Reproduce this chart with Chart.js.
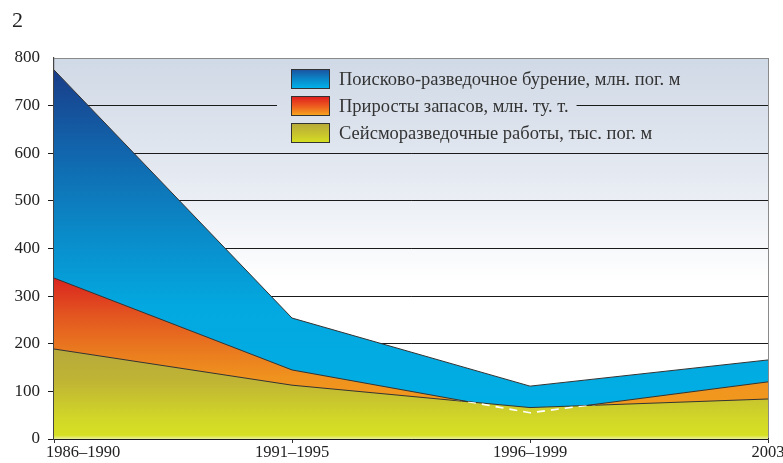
<!DOCTYPE html>
<html>
<head>
<meta charset="utf-8">
<script src="https://cdn.jsdelivr.net/npm/chart.js@4/dist/chart.umd.min.js"></script>
<style>
  html, body { margin: 0; padding: 0; background: #fff; }
  #wrap { width: 783px; height: 463px; }
</style>
</head>
<body>
<div id="wrap"><canvas id="chart" width="783" height="463"></canvas></div>
<script>
// data
const periods = ['1986–1990', '1991–1995', '1996–1999', '2003'];
const drilling = [775, 254, 111, 166];   // Поисково-разведочное бурение, млн. пог. м
const reserves = [338, 145, 55, 120];    // Приросты запасов, млн. ту. т.
const seismic = [189, 113, 66, 84];      // Сейсморазведочные работы, тыс. пог. м
const yTicks = [0, 100, 200, 300, 400, 500, 600, 700, 800];
const legendLabels = [
    'Поисково-разведочное бурение, млн. пог. м',
    'Приросты запасов, млн. ту. т.',
    'Сейсморазведочные работы, тыс. пог. м'
];
const figureNumber = '2';

const serif = '"Liberation Serif", "DejaVu Serif", serif';

function vGradient(chart, stops) {
    // stops: [value, color] pairs on the y scale
    const y = chart.scales.y;
    const area = chart.chartArea;
    if (!y || !area) return null;
    const g = chart.ctx.createLinearGradient(0, area.top, 0, area.bottom);
    stops.forEach(function(s) {
        let p = (y.getPixelForValue(s[0]) - area.top) / (area.bottom - area.top);
        p = Math.max(0, Math.min(1, p));
        g.addColorStop(p, s[1]);
    });
    return g;
}

function bgGradient(chart) {
    return vGradient(chart, [[800, '#d0d9e6'], [560, '#e4e9f1'], [330, '#ffffff'], [0, '#ffffff']]);
}

const blueFill = function(c) {
    return vGradient(c.chart, [[790, '#1a3985'], [620, '#1262aa'], [430, '#0a8bc9'], [280, '#03a8e0'], [0, '#00b0e6']]);
};
const orangeFill = function(c) {
    return vGradient(c.chart, [[340, '#d9231f'], [260, '#e35520'], [190, '#e9781f'], [130, '#f0921e'], [0, '#f4a11d']]);
};
const yellowFill = function(c) {
    return vGradient(c.chart, [[190, '#b6a83b'], [120, '#c0b534'], [40, '#d2d827'], [8, '#d6e022'], [0, '#eaf09e']]);
};

// background of the plot area
const backgroundPlugin = {
    id: 'plotBackground',
    beforeDraw(chart) {
        const ctx = chart.ctx;
        const a = chart.chartArea;
        ctx.save();
        ctx.fillStyle = '#ffffff';
        ctx.fillRect(0, 0, chart.width, chart.height);
        ctx.fillStyle = bgGradient(chart);
        ctx.fillRect(a.left, a.top, a.right - a.left, a.bottom - a.top);
        ctx.restore();
    }
};

// the hidden part of the reserves line, shown white dashed through the seismic area
const hiddenLinePlugin = {
    id: 'hiddenLine',
    afterDatasetsDraw(chart) {
        const ctx = chart.ctx;
        const front = chart.getDatasetMeta(0).data;
        const back = chart.getDatasetMeta(1).data;
        const bottom = chart.scales.y.getPixelForValue(0);
        ctx.save();
        ctx.beginPath();
        ctx.moveTo(front[0].x, front[0].y);
        for (let i = 1; i < front.length; i++) ctx.lineTo(front[i].x, front[i].y);
        ctx.lineTo(front[front.length - 1].x, bottom);
        ctx.lineTo(front[0].x, bottom);
        ctx.closePath();
        ctx.clip();
        ctx.beginPath();
        ctx.moveTo(back[0].x, back[0].y);
        for (let i = 1; i < back.length; i++) ctx.lineTo(back[i].x, back[i].y);
        ctx.strokeStyle = '#ffffff';
        ctx.lineWidth = 1.6;
        ctx.setLineDash([8, 6]);
        ctx.stroke();
        ctx.restore();
    }
};

// legend, x labels and the figure number
const decorPlugin = {
    id: 'decor',
    afterDraw(chart) {
        const ctx = chart.ctx;
        const x = chart.scales.x;
        const y = chart.scales.y;
        ctx.save();

        // figure number
        ctx.fillStyle = '#222';
        ctx.font = '22px ' + serif;
        ctx.textAlign = 'left';
        ctx.textBaseline = 'top';
        ctx.fillText(figureNumber, 12, 10);

        // x labels
        ctx.font = '16.5px ' + serif;
        ctx.textBaseline = 'top';
        ctx.fillStyle = '#222';
        periods.forEach(function(p, i) {
            const px = x.getPixelForValue(i);
            if (i === 0) {
                ctx.textAlign = 'left';
                ctx.fillText(p, px - 8, 444);
            } else {
                ctx.textAlign = 'center';
                ctx.fillText(p, px, 444);
            }
        });

        // legend
        const swatchX = 291, swatchW = 39, swatchH = 20;
        const textX = swatchX + swatchW + 9;
        const rowY = [69, 96, 123];
        const fills = [
            [['#1c4f9c', 0], ['#0a86c8', 0.5], ['#00b6ec', 1]],
            [['#e0191f', 0], ['#ec5a1f', 0.5], ['#f8ab1e', 1]],
            [['#b5a93b', 0], ['#c6c12f', 0.5], ['#d6e120', 1]]
        ];
        ctx.font = '18.5px ' + serif;
        ctx.textAlign = 'left';
        ctx.textBaseline = 'middle';
        legendLabels.forEach(function(label, i) {
            const top = rowY[i];
            const mid = top + swatchH / 2;
            if (i === 1) {
                // the 700 grid line stops around this row
                const gapStart = swatchX - 14;
                const gapEnd = textX + ctx.measureText(label).width + 8;
                ctx.fillStyle = bgGradient(chart);
                ctx.fillRect(gapStart, y.getPixelForValue(700) - 2, gapEnd - gapStart, 4);
            }
            const g = ctx.createLinearGradient(0, top, 0, top + swatchH);
            fills[i].forEach(function(s) { g.addColorStop(s[1], s[0]); });
            ctx.fillStyle = g;
            ctx.fillRect(swatchX, top, swatchW, swatchH);
            ctx.strokeStyle = '#333';
            ctx.lineWidth = 1;
            ctx.strokeRect(swatchX + 0.5, top + 0.5, swatchW - 1, swatchH - 1);
            ctx.fillStyle = '#333';
            ctx.fillText(label, textX, mid + 1);
        });
        ctx.restore();
    }
};

const ctx = document.getElementById('chart').getContext('2d');
new Chart(ctx, {
    type: 'line',
    data: {
        labels: periods,
        datasets: [
            {
                label: legendLabels[2],
                data: seismic,
                backgroundColor: yellowFill,
                borderColor: '#333',
                borderWidth: 1,
                fill: 'origin',
                pointRadius: 0,
                tension: 0
            },
            {
                label: legendLabels[1],
                data: reserves,
                backgroundColor: orangeFill,
                borderColor: '#333',
                borderWidth: 1,
                fill: 'origin',
                pointRadius: 0,
                tension: 0
            },
            {
                label: legendLabels[0],
                data: drilling,
                backgroundColor: blueFill,
                borderColor: '#333',
                borderWidth: 1,
                fill: 'origin',
                pointRadius: 0,
                tension: 0
            }
        ]
    },
    options: {
        responsive: false,
        animation: false,
        layout: {
            padding: { top: 58, right: 15, left: 0, bottom: 0 }
        },
        scales: {
            x: {
                z: 1,
                offset: false,
                grid: {
                    color: function(c) { return c.index === periods.length - 1 ? '#8a8a8a' : 'rgba(0,0,0,0)'; },
                    tickColor: '#333',
                    tickLength: 4,
                    lineWidth: 1
                },
                border: { display: true, color: '#222', width: 1.2 },
                ticks: { display: false },
                afterFit: function(scale) { scale.height = 24; }
            },
            y: {
                z: 1,
                min: 0,
                max: 800,
                afterBuildTicks: function(scale) {
                    scale.ticks = yTicks.map(function(v) { return { value: v }; });
                },
                grid: {
                    color: function(c) { return c.tick && c.tick.value === 800 ? '#8a8a8a' : '#1a1a1a'; },
                    tickColor: function(c) { return c.tick && c.tick.value === 800 ? 'rgba(0,0,0,0)' : '#1a1a1a'; },
                    tickLength: 6,
                    lineWidth: 1
                },
                border: { display: true, color: '#444', width: 1.2 },
                ticks: {
                    color: '#222',
                    padding: 8,
                    font: { family: serif, size: 17 }
                },
                afterFit: function(scale) { scale.width = 54; }
            }
        },
        plugins: {
            legend: { display: false },
            tooltip: { enabled: false }
        }
    },
    plugins: [backgroundPlugin, hiddenLinePlugin, decorPlugin]
});
</script>
</body>
</html>
